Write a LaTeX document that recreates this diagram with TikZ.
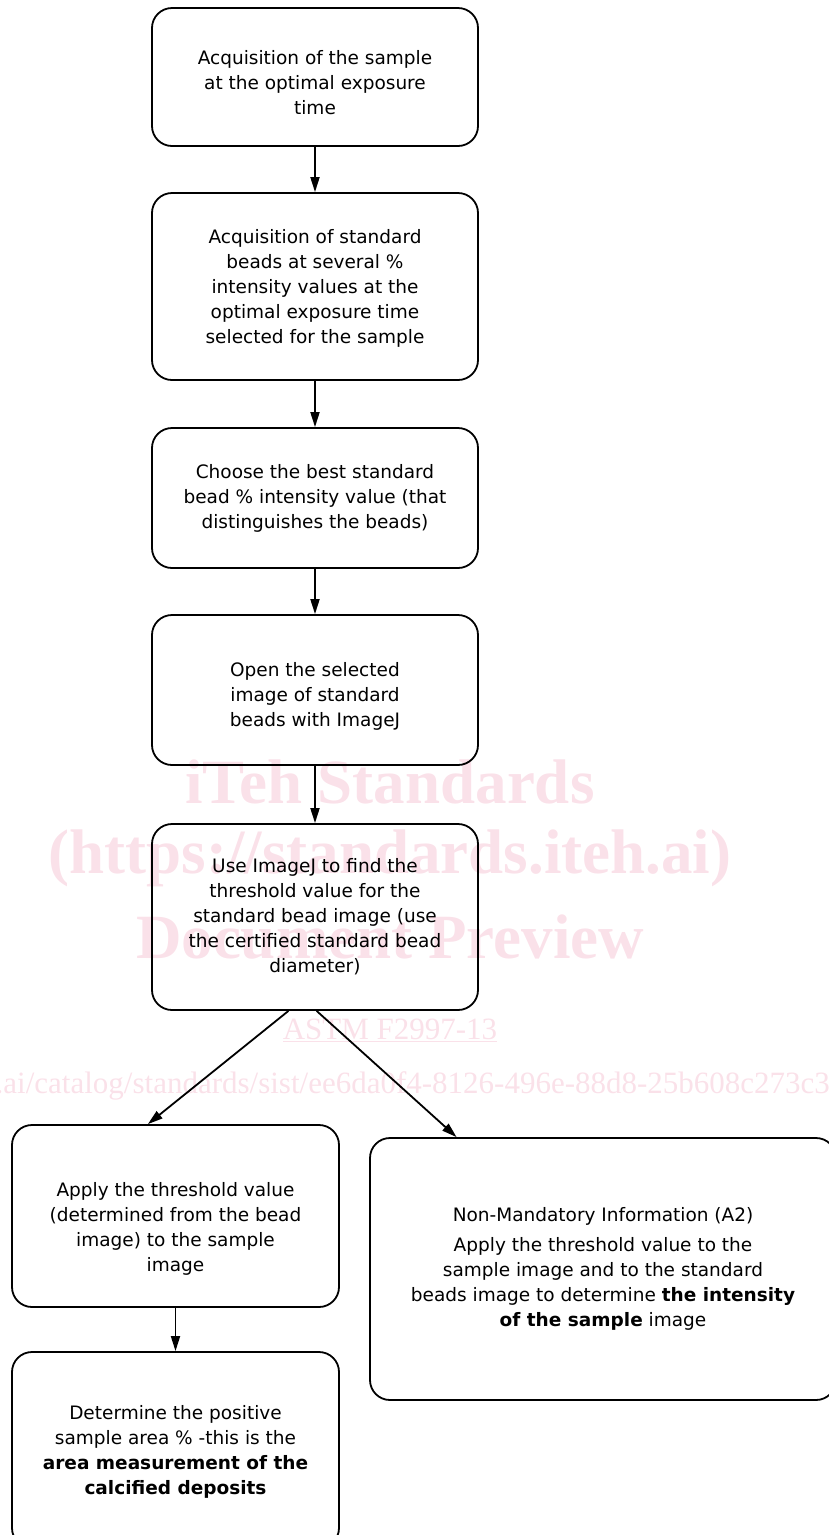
\documentclass[tikz,border=0pt]{standalone}
\usepackage{fontspec}
\setmainfont{DejaVu Sans}
\newfontfamily\wmfont{Liberation Serif}
\usetikzlibrary{arrows.meta,calc}
\definecolor{wmpink}{RGB}{250,225,233}
\begin{document}
\begin{tikzpicture}[x=1pt,y=-1pt,
  box/.style={draw=black, line width=1.8pt, rounded corners=20pt, align=center,
    font=\fontsize{18.5}{25}\selectfont, inner sep=0pt},
  flow/.style={line width=1.8pt, -{Triangle[length=15pt,width=9pt]}},
  wm/.style={text=wmpink, inner sep=0pt}]
\useasboundingbox (0,0) rectangle (829,1535);
% watermark
\node[wm, font=\wmfont\bfseries\fontsize{63}{63}\selectfont] (wm1) at (390,782) {iTeh Standards};
\node[wm, font=\wmfont\bfseries\fontsize{63}{63}\selectfont] (wm2) at (390,858) {(https://standards.iteh.ai)};
\node[wm, font=\wmfont\bfseries\fontsize{63}{63}\selectfont] (wm3) at (390,937) {Document Preview};
\node[wm, font=\wmfont\fontsize{31}{31}\selectfont] (wm4) at (390,1030) {\underline{ASTM F2997-13}};
\node[wm, font=\wmfont\fontsize{31}{31}\selectfont, anchor=west] (wm5) at (-262,1086) {https://standards.iteh.ai/catalog/standards/sist/ee6da0f4-8126-496e-88d8-25b608c273c3/astm-f2997-13};
% boxes
\node[box, minimum width=326pt, minimum height=138pt] (b1) at (315,77)
  {\rule{0pt}{26pt}Acquisition of the sample\\at the optimal exposure\\time};
\node[box, minimum width=326pt, minimum height=187pt] (b2) at (315,286.5)
  {\rule{0pt}{17pt}Acquisition of standard\\beads at several \%\\intensity values at the\\optimal exposure time\\selected for the sample};
\node[box, minimum width=326pt, minimum height=140pt] (b3) at (315,498)
  {Choose the best standard\\bead \% intensity value (that\\distinguishes the beads)};
\node[box, minimum width=326pt, minimum height=150pt] (b4) at (315,690)
  {\rule{0pt}{26pt}Open the selected\\image of standard\\beads with ImageJ};
\node[box, minimum width=326pt, minimum height=186pt] (b5) at (315,917)
  {Use ImageJ to find the\\threshold value for the\\standard bead image (use\\the certified standard bead\\diameter)};
\node[box, minimum width=327pt, minimum height=182pt] (b6) at (175.5,1216)
  {\rule{0pt}{40pt}Apply the threshold value\\(determined from the bead\\image) to the sample\\image};
\node[box, minimum width=327pt, minimum height=196pt] (b7) at (175.5,1450)
  {\rule{0pt}{18pt}Determine the positive\\sample area \% -this is the\\\textbf{area measurement of the}\\\textbf{calcified deposits}};
\node[box, minimum width=466pt, minimum height=262pt] (b8) at (603,1269)
  {Non-Mandatory Information (A2)\\[5pt]Apply the threshold value to the\\sample image and to the standard\\beads image to determine \textbf{the intensity}\\\textbf{of the sample} image};
% connectors
\draw[flow] (b1) -- (b2);
\draw[flow] (b2) -- (b3);
\draw[flow] (b3) -- (b4);
\draw[flow] (b4) -- (b5);
\draw[flow] ($(b5.south west)!0.419!(b5.south east)$) -- ($(b6.north west)!0.416!(b6.north east)$);
\draw[flow] ($(b5.south west)!0.505!(b5.south east)$) -- ($(b8.north west)!0.187!(b8.north east)$);
\draw[flow] (b6) -- (b7);
\end{tikzpicture}
\end{document}
